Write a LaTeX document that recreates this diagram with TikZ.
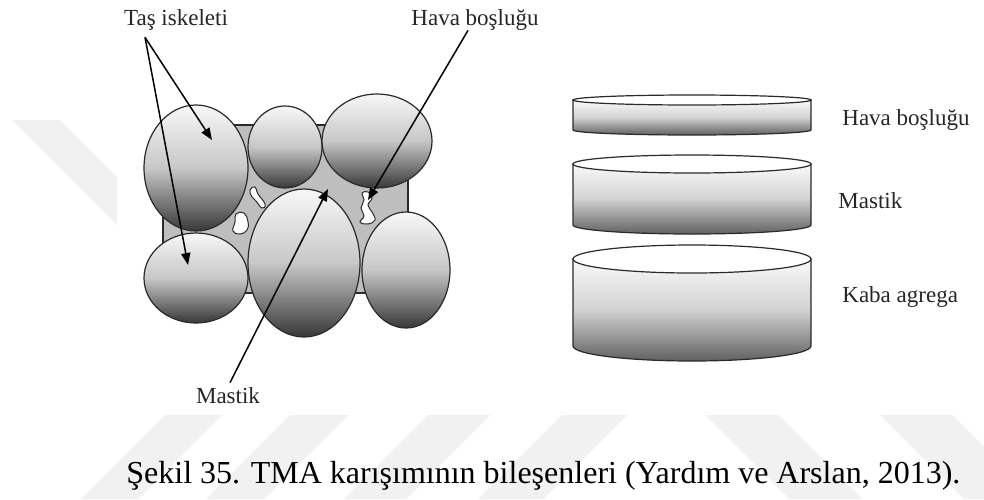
\documentclass[tikz,border=0pt]{standalone}
\usepackage{fontspec}
\setmainfont{Liberation Serif}
\usetikzlibrary{arrows.meta,shapes.geometric}

\definecolor{mastic}{HTML}{BEBEBE}
\definecolor{rim}{HTML}{2A2A2A}
\definecolor{wmark}{HTML}{F1F1F1}

\tikzset{
  % aggregate grains
  stone/.style={ellipse,draw=rim,line width=0.6pt,inner sep=0pt,
                top color=black!3,bottom color=black!78,middle color=black!22},
  % air voids inside the mastic
  void/.style={draw=rim,line width=0.5pt,fill=white},
  % layer cylinders
  body/.style={draw=rim,line width=0.6pt,
               top color=black!2,bottom color=black!62,middle color=black!18},
  lid/.style={draw=rim,line width=0.6pt,fill=white},
  % faint background chevrons
  chev/.style={fill=wmark},
  % labels and pointers
  lbl/.style={inner sep=0pt,text=black!85,font=\fontsize{11.5}{13}\selectfont},
  ptr/.style={-{Triangle[length=6pt,width=4.6pt]},line width=0.75pt,black}
}

\begin{document}
\begin{tikzpicture}[x=0.5pt,y=-0.5pt]
  \fill[white] (0,0) rectangle (984,499);
  \useasboundingbox (0,0) rectangle (984,499);

  % background chevrons
  \fill[chev] (12,120) -- (60,120) -- (117,177) -- (117,225) -- cycle;
  \fill[chev] (165,415) -- (222,415) -- (138,499) -- (81,499) -- cycle;
  \fill[chev] (290,415) -- (348,415) -- (264,499) -- (206,499) -- cycle;
  \fill[chev] (428,415) -- (490,415) -- (406,499) -- (344,499) -- cycle;
  \fill[chev] (562,415) -- (627,415) -- (543,499) -- (478,499) -- cycle;
  \fill[chev] (705,415) -- (778,415) -- (862,499) -- (789,499) -- cycle;
  \fill[chev] (880,415) -- (952,415) -- (1036,499) -- (964,499) -- cycle;

  % mastic matrix
  \filldraw[fill=mastic,draw=rim,line width=0.6pt] (163,125) rectangle (408,293);

  % air voids
  \draw[void] plot[smooth cycle,tension=0.8] coordinates
    {(250,190) (255,187) (258,194) (265,204) (262,208) (256,201) (252,197)};
  \draw[void] plot[smooth cycle,tension=0.8] coordinates
    {(236,214) (244,213) (248,222) (247,230) (240,234) (233,231) (235,222)};
  \draw[void] plot[smooth cycle,tension=0.7] coordinates
    {(362,193) (368,192) (372,198) (368,205) (372,212) (375,220) (368,224)
     (360,222) (364,216) (361,208) (364,200)};

  % stone skeleton
  \node[stone,minimum width=52pt,minimum height=63pt] (g1) at (196,168) {};
  \node[stone,minimum width=37pt,minimum height=41pt] (g2) at (285,147) {};
  \node[stone,minimum width=55pt,minimum height=47pt] (g3) at (377,141) {};
  \node[stone,minimum width=52pt,minimum height=45pt] (g4) at (196,278) {};
  \node[stone,minimum width=56pt,minimum height=74pt] (g5) at (304,263) {};
  \node[stone,minimum width=44pt,minimum height=58pt] (g6) at (406,270) {};

  % layers
  \draw[body] (573,100) -- (573,130) arc[start angle=180,end angle=0,x radius=119,y radius=5] -- (811,100) -- cycle;
  \draw[lid] (692,100) ellipse[x radius=119,y radius=5];
  \draw[body] (573,164) -- (573,225) arc[start angle=180,end angle=0,x radius=119,y radius=9] -- (811,164) -- cycle;
  \draw[lid] (692,164) ellipse[x radius=119,y radius=9];
  \draw[body] (573,259) -- (573,346) arc[start angle=180,end angle=0,x radius=119,y radius=15] -- (811,259) -- cycle;
  \draw[lid] (692,259) ellipse[x radius=119,y radius=14];

  % labels
  \node[lbl,anchor=base] (tas) at (176,25) {Taş iskeleti};
  \node[lbl,anchor=base] (hava) at (475,25) {Hava boşluğu};
  \node[lbl,anchor=base] (mastb) at (228,403) {Mastik};
  \node[lbl,anchor=base west] (rhava) at (842,125) {Hava boşluğu};
  \node[lbl,anchor=base west] (rmast) at (838,208) {Mastik};
  \node[lbl,anchor=base west] (rkaba) at (842,302) {Kaba agrega};

  \node[anchor=base west,inner sep=0pt,font=\fontsize{16}{18}\selectfont] (caption)
    at (126,483) {Şekil 35. TMA karışımının bileşenleri (Yardım ve Arslan, 2013).};

  % pointers
  \coordinate (tasroot) at ([shift={(-31,7)}]tas.south);
  \coordinate (havaroot) at ([shift={(-7,0)}]hava.south);
  \coordinate (mastroot) at ([shift={(2,-4)}]mastb.north);
  \coordinate (tip1) at (212,140);
  \coordinate (tip2) at (188,265);
  \coordinate (voidtip) at (368,200);
  \coordinate (mixtip) at (328,189);

  \draw[ptr] (tasroot) -- (tip1);
  \draw[ptr] (tasroot) -- (tip2);
  \draw[ptr] (havaroot) -- (voidtip);
  \draw[ptr] (mastroot) -- (mixtip);
\end{tikzpicture}
\end{document}
